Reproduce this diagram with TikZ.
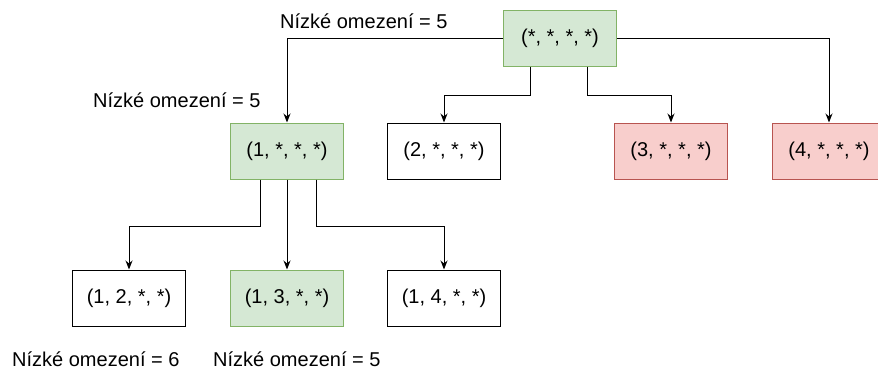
\documentclass[tikz,border=0pt]{standalone}
\usepackage{fontspec}
\setmainfont{Liberation Sans}
\usetikzlibrary{arrows.meta}
\definecolor{okfill}{HTML}{D5E8D4}
\definecolor{okline}{HTML}{82B366}
\definecolor{badfill}{HTML}{F8CECC}
\definecolor{badline}{HTML}{B85450}
\begin{document}
\begin{tikzpicture}[x=1pt,y=-1pt,
  every node/.style={font=\fontsize{20}{24}\selectfont},
  box/.style={draw=black,line width=1pt,minimum width=113pt,minimum height=56pt,inner sep=0pt},
  good/.style={box,draw=okline,fill=okfill},
  bad/.style={box,draw=badline,fill=badfill},
  link/.style={draw=black,line width=1pt,-{Stealth[length=9pt,width=7pt]}},
  note/.style={inner sep=0pt,anchor=base west}]
\useasboundingbox (0,0) rectangle (878,372);
\begin{scope}
\clip (0,0) rectangle (878,372);
% search tree nodes
\node[good] (root) at (560,38) {(*, *, *, *)};
\node[good] (n1) at (287,151) {(1, *, *, *)};
\node[box]  (n2) at (444,151) {(2, *, *, *)};
\node[bad]  (n3) at (671,151) {(3, *, *, *)};
\node[bad]  (n4) at (829,151) {(4, *, *, *)};
\node[box]  (n12) at (129,298) {(1, 2, *, *)};
\node[good] (n13) at (287,298) {(1, 3, *, *)};
\node[box]  (n14) at (444,298) {(1, 4, *, *)};
% branches from the root
\draw[link] (root.west) -| (n1.north);
\draw[link] (root.east) -| (n4.north);
\draw[link] ([xshift=-30pt]root.south) |- (444,95) -- (n2.north);
\draw[link] ([xshift=27pt]root.south) |- (671,95) -- (n3.north);
% branches from (1,*,*,*)
\draw[link] ([xshift=-27pt]n1.south) |- (129,226) -- (n12.north);
\draw[link] (n1.south) -- (n13.north);
\draw[link] ([xshift=29pt]n1.south) |- (444,226) -- (n14.north);
\end{scope}
% lower bounds
\node[note] (l0) at (280,28) {Nízké omezení = 5};
\node[note] (l1) at (93,107) {Nízké omezení = 5};
\node[note] (l2) at (12,366) {Nízké omezení = 6};
\node[note] (l3) at (213,366) {Nízké omezení = 5};
\end{tikzpicture}
\end{document}
